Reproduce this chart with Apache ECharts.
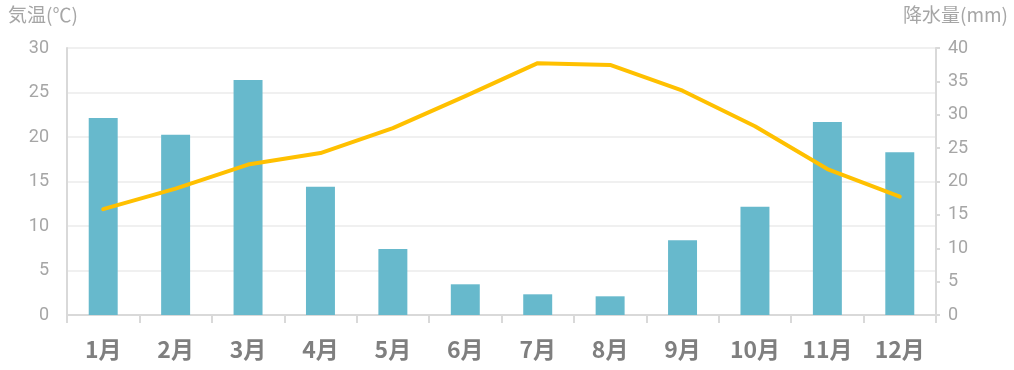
<!DOCTYPE html>
<html><head><meta charset="utf-8">
<script src="https://cdn.jsdelivr.net/npm/echarts@6/dist/echarts.min.js"></script>
<style>html,body{margin:0;padding:0;background:#fff}#c{width:1014px;height:370px}</style>
</head><body><div id="c"></div>
<script>
const categories = ['1月','2月','3月','4月','5月','6月','7月','8月','9月','10月','11月','12月'];
const precipitation = [29.5, 27.0, 35.2, 19.2, 9.9, 4.6, 3.1, 2.8, 11.2, 16.2, 28.9, 24.4];
const temperature = [11.9, 14.2, 16.9, 18.2, 21.0, 24.6, 28.3, 28.1, 25.2, 21.2, 16.4, 13.3];
const leftTitle = '気温(℃)';
const rightTitle = '降水量(mm)';

const font = '"Noto Sans CJK JP", "Noto Sans", sans-serif';
const chart = echarts.init(document.getElementById('c'), null, {renderer: 'canvas'});
chart.setOption({
  animation: false,
  textStyle: {fontFamily: font},
  graphic: [
    {type: 'text', left: 8, top: 5, style: {text: leftTitle, font: '19px ' + font, fill: '#a6a6a6'}},
    {type: 'text', right: 6, top: 5, style: {text: rightTitle, font: '19px ' + font, fill: '#a6a6a6'}}
  ],
  grid: {left: 67, right: 78, top: 48, bottom: 55, containLabel: false},
  xAxis: {
    type: 'category', data: categories,
    axisLine: {lineStyle: {color: '#d9d9d9', width: 2}},
    axisTick: {show: true, length: 8, lineStyle: {color: '#d9d9d9', width: 2}},
    axisLabel: {color: '#7f7f7f', fontSize: 23, fontWeight: 'bold', margin: 23, fontFamily: font}
  },
  yAxis: [
    {type: 'value', min: 0, max: 30, interval: 5, position: 'left',
     axisLine: {show: true, lineStyle: {color: '#d9d9d9', width: 2}},
     axisTick: {show: false},
     axisLabel: {color: '#a6a6a6', fontSize: 18, margin: 18, fontFamily: 'Roboto, sans-serif'},
     splitLine: {show: true, lineStyle: {color: '#f0f0f0', width: 2}}},
    {type: 'value', min: 0, max: 40, interval: 5, position: 'right',
     axisLine: {show: true, lineStyle: {color: '#d9d9d9', width: 2}},
     axisTick: {show: true, length: 4, lineStyle: {color: '#d9d9d9', width: 2}},
     axisLabel: {color: '#a6a6a6', fontSize: 18, margin: 12, fontFamily: 'Roboto, sans-serif'},
     splitLine: {show: false}}
  ],
  series: [
    {type: 'bar', yAxisIndex: 1, data: precipitation, barWidth: '40%',
     itemStyle: {color: '#67b9cc'}, z: 2},
    {type: 'line', yAxisIndex: 0, data: temperature, symbol: 'none',
     lineStyle: {color: '#ffc000', width: 4, cap: 'round', join: 'round'}, z: 3}
  ]
});
</script></body></html>
